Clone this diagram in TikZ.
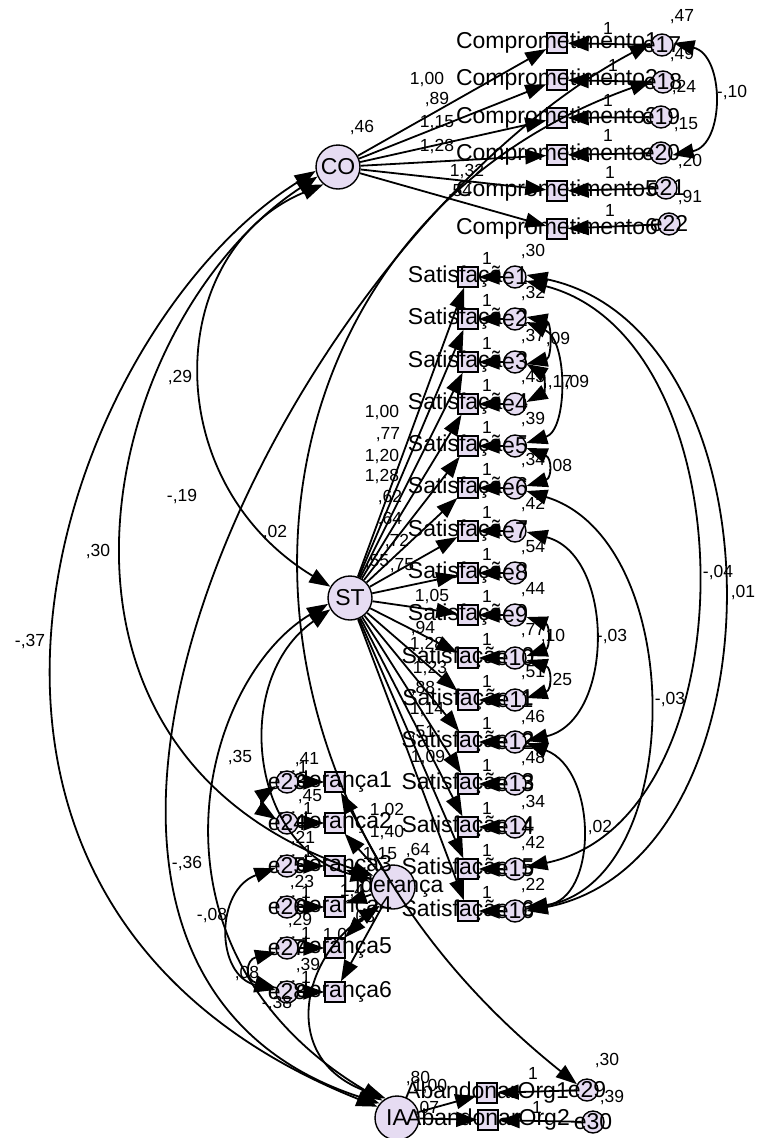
\documentclass[tikz,border=0pt]{standalone}
\usepackage{fontspec}
\setmainfont{Liberation Sans}
\usetikzlibrary{arrows.meta}
\definecolor{lav}{RGB}{230,220,242}
\newcommand{\vnfont}{\fontsize{23}{23}\selectfont}
\newcommand{\numfont}{\fontsize{17.5}{17.5}\selectfont}

\begin{document}
\begin{tikzpicture}[x=1pt, y=-1pt,
    lat/.style={circle, draw, line width=1.4pt, fill=lav, minimum size=44pt, inner sep=0pt, label={[font=\vnfont]center:#1}},
    obs/.style={rectangle, draw, line width=1.4pt, fill=lav, minimum size=20pt, inner sep=0pt, label={[font=\vnfont]center:#1}},
    err/.style={circle, draw, line width=1.4pt, fill=lav, minimum size=22pt, inner sep=0pt, label={[font=\vnfont]center:#1}},
    num/.style={font=\numfont, inner sep=0pt},
    arr/.style={-{Triangle[length=21pt,width=15pt]}, line width=1.8pt},
    cov/.style={{Triangle[length=21pt,width=15pt]}-{Triangle[length=21pt,width=15pt]}, line width=1.8pt}
]
\path[use as bounding box, fill=white] (0,0) rectangle (756,1138);

% Comprometimento
\node[lat=CO] (CO) at (338,167) {};
\node[obs=Comprometimento1] (C1) at (557,43) {};
\node[obs=Comprometimento2] (C2) at (557,80) {};
\node[obs=Comprometimento3] (C3) at (557,118) {};
\node[obs=Comprometimento4] (C4) at (557,155) {};
\node[obs=Comprometimento5] (C5) at (557,191) {};
\node[obs=Comprometimento6] (C6) at (557,229) {};
\node[err=e17] (e17) at (662,45) {};
\node[err=e18] (e18) at (663,82) {};
\node[err=e19] (e19) at (661,117) {};
\node[err=e20] (e20) at (661,153) {};
\node[err=e21] (e21) at (666,188) {};
\node[err=e22] (e22) at (669,224) {};

\draw[arr] (CO) -- (C1);
\draw[arr] (CO) -- (C2);
\draw[arr] (CO) -- (C3);
\draw[arr] (CO) -- (C4);
\draw[arr] (CO) -- (C5);
\draw[arr] (CO) -- (C6);
\draw[arr] (e17) -- (C1);
\draw[arr] (e18) -- (C2);
\draw[arr] (e19) -- (C3);
\draw[arr] (e20) -- (C4);
\draw[arr] (e21) -- (C5);
\draw[arr] (e22) -- (C6);
\draw[cov] (e17.10) .. controls (725,55) and (725,145) .. (e20.-10);

\node[num] (vCO) at (362,128) {,46};
\node[num] (wC1) at (427,80) {1,00};
\node[num] (wC2) at (437,100) {,89};
\node[num] (wC3) at (437,123) {1,15};
\node[num] (wC4) at (437,147) {1,28};
\node[num] (wC5) at (467,172) {1,32};
\node[num] (wC6) at (460,192) {,54};
\node[num] (f17) at (608,28) {1};
\node[num] (f18) at (613,65) {1};
\node[num] (f19) at (608,100) {1};
\node[num] (f20) at (608,135) {1};
\node[num] (f21) at (610,172) {1};
\node[num] (f22) at (610,210) {1};
\node[num] (ve17) at (682,17) {,47};
\node[num] (ve18) at (682,55) {,49};
\node[num] (ve19) at (684,88) {,24};
\node[num] (ve20) at (686,125) {,15};
\node[num] (ve21) at (690,162) {,20};
\node[num] (ve22) at (690,198) {,91};
\node[num] (k1720) at (732,93) {-,10};

% Satisfacao
\node[lat=ST] (ST) at (350,598) {};
\node[obs=Satisfação1] (S1) at (468,277) {};
\node[obs=Satisfação2] (S2) at (468,319) {};
\node[obs=Satisfação3] (S3) at (468,362) {};
\node[obs=Satisfação4] (S4) at (468,404) {};
\node[obs=Satisfação5] (S5) at (468,446) {};
\node[obs=Satisfação6] (S6) at (468,488) {};
\node[obs=Satisfação7] (S7) at (468,531) {};
\node[obs=Satisfação8] (S8) at (468,573) {};
\node[obs=Satisfação9] (S9) at (468,615) {};
\node[obs=Satisfação10] (S10) at (468,658) {};
\node[obs=Satisfação11] (S11) at (468,700) {};
\node[obs=Satisfação12] (S12) at (468,742) {};
\node[obs=Satisfação13] (S13) at (468,784) {};
\node[obs=Satisfação14] (S14) at (468,827) {};
\node[obs=Satisfação15] (S15) at (468,869) {};
\node[obs=Satisfação16] (S16) at (468,911) {};
\node[err=e1] (e1) at (515,277) {};
\node[err=e2] (e2) at (515,319) {};
\node[err=e3] (e3) at (515,362) {};
\node[err=e4] (e4) at (515,404) {};
\node[err=e5] (e5) at (515,446) {};
\node[err=e6] (e6) at (515,488) {};
\node[err=e7] (e7) at (515,531) {};
\node[err=e8] (e8) at (515,573) {};
\node[err=e9] (e9) at (515,615) {};
\node[err=e10] (e10) at (515,658) {};
\node[err=e11] (e11) at (515,700) {};
\node[err=e12] (e12) at (515,742) {};
\node[err=e13] (e13) at (515,784) {};
\node[err=e14] (e14) at (515,827) {};
\node[err=e15] (e15) at (515,869) {};
\node[err=e16] (e16) at (515,911) {};

\draw[arr] (ST) -- (S1);
\draw[arr] (ST) -- (S2);
\draw[arr] (ST) -- (S3);
\draw[arr] (ST) -- (S4);
\draw[arr] (ST) -- (S5);
\draw[arr] (ST) -- (S6);
\draw[arr] (ST) -- (S7);
\draw[arr] (ST) -- (S8);
\draw[arr] (ST) -- (S9);
\draw[arr] (ST) -- (S10);
\draw[arr] (ST) -- (S11);
\draw[arr] (ST) -- (S12);
\draw[arr] (ST) -- (S13);
\draw[arr] (ST) -- (S14);
\draw[arr] (ST) -- (S15);
\draw[arr] (ST) -- (S16);
\draw[arr] (e1) -- (S1);
\draw[arr] (e2) -- (S2);
\draw[arr] (e3) -- (S3);
\draw[arr] (e4) -- (S4);
\draw[arr] (e5) -- (S5);
\draw[arr] (e6) -- (S6);
\draw[arr] (e7) -- (S7);
\draw[arr] (e8) -- (S8);
\draw[arr] (e9) -- (S9);
\draw[arr] (e10) -- (S10);
\draw[arr] (e11) -- (S11);
\draw[arr] (e12) -- (S12);
\draw[arr] (e13) -- (S13);
\draw[arr] (e14) -- (S14);
\draw[arr] (e15) -- (S15);
\draw[arr] (e16) -- (S16);

\draw[cov] (e2.10) .. controls (552,322) and (552,358) .. (e3.-10);
\draw[cov] (e3.-10) .. controls (545,375) and (545,392) .. (e4.10);
\draw[cov] (e2.-15) .. controls (568,340) and (568,430) .. (e5.15);
\draw[cov] (e5.-10) .. controls (552,458) and (552,478) .. (e6.10);
\draw[cov] (e9.-10) .. controls (550,625) and (550,648) .. (e10.10);
\draw[cov] (e10.-10) .. controls (552,668) and (552,690) .. (e11.10);
\draw[cov] (e7.-5) .. controls (615,555) and (615,720) .. (e12.5);
\draw[cov] (e12.-5) .. controls (598,770) and (598,900) .. (e16.20);
\draw[cov] (e6.-15) .. controls (688,540) and (688,880) .. (e16.10);
\draw[cov] (e1.-20) .. controls (752,340) and (752,820) .. (e15.10);
\draw[cov] (e1.10) .. controls (787,330) and (787,860) .. (e16.0);

\node[num] (vST) at (377,562) {,55};
\node[num] (wS1) at (382,413) {1,00};
\node[num] (wS2) at (388,435) {,77};
\node[num] (wS3) at (382,457) {1,20};
\node[num] (wS4) at (382,477) {1,28};
\node[num] (wS5) at (390,498) {,62};
\node[num] (wS6) at (390,520) {,64};
\node[num] (wS7) at (397,542) {,72};
\node[num] (wS8) at (402,566) {,75};
\node[num] (wS9) at (432,597) {1,05};
\node[num] (wS10) at (423,628) {,94};
\node[num] (wS11) at (427,645) {1,28};
\node[num] (wS12) at (430,668) {1,23};
\node[num] (wS13) at (423,688) {,88};
\node[num] (wS14) at (427,710) {1,14};
\node[num] (wS15) at (423,733) {,51};
\node[num] (wS16) at (428,757) {1,09};
\node[num] (f1) at (487,258) {1};
\node[num] (f2) at (487,300) {1};
\node[num] (f3) at (487,343) {1};
\node[num] (f4) at (487,385) {1};
\node[num] (f5) at (487,427) {1};
\node[num] (f6) at (487,469) {1};
\node[num] (f7) at (487,512) {1};
\node[num] (f8) at (487,554) {1};
\node[num] (f9) at (487,596) {1};
\node[num] (f10) at (487,639) {1};
\node[num] (f11) at (487,681) {1};
\node[num] (f12) at (487,723) {1};
\node[num] (f13) at (487,765) {1};
\node[num] (f14) at (487,808) {1};
\node[num] (f15) at (487,850) {1};
\node[num] (f16) at (487,892) {1};
\node[num] (ve1) at (533,252) {,30};
\node[num] (ve2) at (533,294) {,32};
\node[num] (ve3) at (533,337) {,37};
\node[num] (ve4) at (533,378) {,45};
\node[num] (ve5) at (533,420) {,39};
\node[num] (ve6) at (533,461) {,34};
\node[num] (ve7) at (533,505) {,42};
\node[num] (ve8) at (533,548) {,54};
\node[num] (ve9) at (533,590) {,44};
\node[num] (ve10) at (533,631) {,77};
\node[num] (ve11) at (533,673) {,51};
\node[num] (ve12) at (533,717) {,46};
\node[num] (ve13) at (533,758) {,48};
\node[num] (ve14) at (533,802) {,34};
\node[num] (ve15) at (533,843) {,42};
\node[num] (ve16) at (533,885) {,22};
\node[num] (k23) at (558,340) {,09};
\node[num] (k34) at (560,383) {,17};
\node[num] (k25) at (577,383) {,09};
\node[num] (k56) at (560,467) {,08};
\node[num] (k910) at (553,637) {,10};
\node[num] (k1011) at (560,680) {,25};
\node[num] (k712) at (612,637) {-,03};
\node[num] (k1216) at (600,827) {,02};
\node[num] (k616) at (670,700) {-,03};
\node[num] (k115) at (718,573) {-,04};
\node[num] (k116) at (743,593) {,01};

% Lideranca
\node[lat=Liderança] (Lid) at (393,887) {};
\node[obs=Liderança1] (L1) at (335,782) {};
\node[obs=Liderança2] (L2) at (335,823) {};
\node[obs=Liderança3] (L3) at (335,866) {};
\node[obs=Liderança4] (L4) at (335,907) {};
\node[obs=Liderança5] (L5) at (335,948) {};
\node[obs=Liderança6] (L6) at (335,992) {};
\node[err=e23] (e23) at (287,782) {};
\node[err=e24] (e24) at (287,823) {};
\node[err=e25] (e25) at (287,866) {};
\node[err=e26] (e26) at (287,907) {};
\node[err=e27] (e27) at (287,948) {};
\node[err=e28] (e28) at (287,992) {};

\draw[arr] (Lid) -- (L1);
\draw[arr] (Lid) -- (L2);
\draw[arr] (Lid) -- (L3);
\draw[arr] (Lid) -- (L4);
\draw[arr] (Lid) -- (L5);
\draw[arr] (Lid) -- (L6);
\draw[arr] (e23) -- (L1);
\draw[arr] (e24) -- (L2);
\draw[arr] (e25) -- (L3);
\draw[arr] (e26) -- (L4);
\draw[arr] (e27) -- (L5);
\draw[arr] (e28) -- (L6);
\draw[cov] (e23.200) .. controls (262,795) and (262,810) .. (e24.160);
\draw[cov] (e25.190) .. controls (215,890) and (215,975) .. (e28.170);
\draw[cov] (e27.200) .. controls (245,960) and (245,980) .. (e28.160);

\node[num] (vLid) at (418,850) {,64};
\node[num] (wL1) at (387,810) {1,02};
\node[num] (wL2) at (387,832) {1,40};
\node[num] (wL3) at (380,855) {1,15};
\node[num] (wL4) at (352,892) {1,4};
\node[num] (wL5) at (363,917) {,03};
\node[num] (wL6) at (335,935) {1,0};
\node[num] (f23) at (303,767) {1};
\node[num] (f24) at (308,808) {1};
\node[num] (f25) at (308,851) {1};
\node[num] (f26) at (306,892) {1};
\node[num] (f27) at (306,933) {1};
\node[num] (f28) at (306,977) {1};
\node[num] (ve23) at (307,760) {,41};
\node[num] (ve24) at (310,797) {,45};
\node[num] (ve25) at (303,838) {,21};
\node[num] (ve26) at (302,882) {,23};
\node[num] (ve27) at (300,920) {,29};
\node[num] (ve28) at (308,965) {,39};
\node[num] (k2528) at (212,915) {-,08};
\node[num] (k2728) at (247,973) {,08};

% Abandonar
\node[lat=IA] (Ab) at (397,1118) {};
\node[obs=AbandonarOrg1] (A1) at (487,1093) {};
\node[obs=AbandonarOrg2] (A2) at (488,1120) {};
\node[err=e29] (e29) at (587,1090) {};
\node[err=e30] (e30) at (593,1122) {};
\draw[arr] (Ab) -- (A1);
\draw[arr] (Ab) -- (A2);
\draw[arr] (e29) -- (A1);
\draw[arr] (e30) -- (A2);
\node[num] (vAb) at (418,1078) {,80};
\node[num] (wA1) at (430,1086) {1,00};
\node[num] (wA2) at (427,1108) {,07};
\node[num] (f29) at (533,1073) {1};
\node[num] (f30) at (537,1107) {1};
\node[num] (ve29) at (607,1060) {,30};
\node[num] (ve30) at (612,1097) {,39};

% covariancias entre fatores
\draw[cov] (CO.190) .. controls (60,330) and (-140,900) .. (Ab.150);
\draw[cov] (CO.205) .. controls (100,320) and (0,750) .. (Lid.150);
\draw[cov] (CO.230) .. controls (165,250) and (155,480) .. (ST.150);
\draw[cov] (e17.170) .. controls (280,240) and (-60,960) .. (Ab.140);
\draw[cov] (e18.175) .. controls (230,230) and (170,760) .. (e29.150);
\draw[cov] (ST.210) .. controls (230,680) and (250,850) .. (Lid.160);
\draw[cov] (ST.195) .. controls (200,680) and (130,950) .. (Ab.130);
\draw[cov] (Lid.235) .. controls (300,960) and (280,1060) .. (Ab.120);
\node[num] (kCOAb) at (30,642) {-,37};
\node[num] (kCOLid) at (98,552) {,30};
\node[num] (kCOST) at (180,378) {,29};
\node[num] (k17Ab) at (182,497) {-,19};
\node[num] (k1829) at (275,533) {,02};
\node[num] (kSTLid) at (240,757) {,35};
\node[num] (kSTAb) at (187,863) {-,36};
\node[num] (kLidAb) at (277,1003) {-,38};
\end{tikzpicture}
\end{document}
